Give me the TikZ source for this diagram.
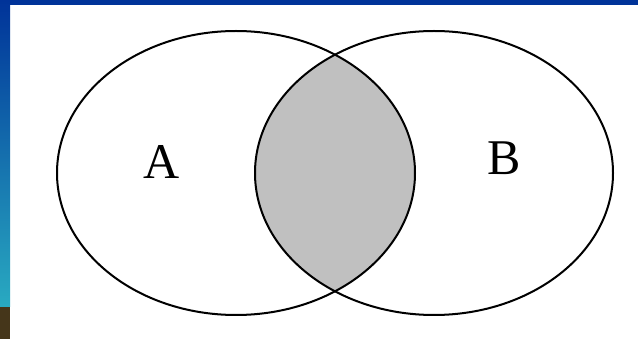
\documentclass[tikz,border=0pt]{standalone}
\usepackage{fontspec}
\setmainfont{Liberation Serif}
\definecolor{barblue}{HTML}{003399}
\definecolor{barcyan}{HTML}{29AAC1}
\definecolor{barbrown}{HTML}{45361A}
\definecolor{lensgray}{HTML}{C0C0C0}
\begin{document}
\begin{tikzpicture}[x=1pt,y=-1pt,
  setline/.style={draw=black,line width=2pt},
  setlabel/.style={font=\fontsize{50}{50}\selectfont,inner sep=0pt}]
\useasboundingbox (0,0) rectangle (638,339);
\fill[white] (0,0) rectangle (638,339);
% top bar and left bar
\fill[barblue] (0,0) rectangle (638,5);
\shade[top color=barblue,bottom color=barcyan] (0,0) rectangle (10,307);
\fill[barbrown] (0,307) rectangle (10,339);
% lens
\begin{scope}
  \clip (236,173) ellipse [x radius=179, y radius=142];
  \fill[lensgray] (434,173) ellipse [x radius=179, y radius=142];
\end{scope}
\draw[setline] (236,173) ellipse [x radius=179, y radius=142];
\draw[setline] (434,173) ellipse [x radius=179, y radius=142];
\node[setlabel] (a) at (161.5,162) {A};
\node[setlabel] (b) at (504.5,158.5) {B};
\end{tikzpicture}
\end{document}
